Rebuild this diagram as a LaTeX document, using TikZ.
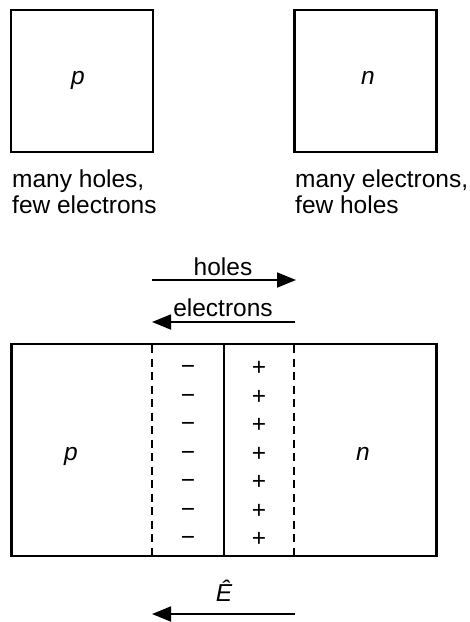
\documentclass[tikz,border=0pt]{standalone}
\usepackage{fontspec}
\setmainfont{Liberation Sans}
\usetikzlibrary{arrows.meta}
\begin{document}
\begin{tikzpicture}[x=1pt,y=-1pt,
  txt/.style={font=\fontsize{24.5}{26}\selectfont, inner sep=0pt},
  blk/.style={draw, line width=2.4pt, inner sep=0pt},
  arr/.style={line width=1.8pt, -{Triangle[length=19pt,width=15pt]}},
  dsh/.style={line width=2pt, dash pattern=on 8pt off 5.5pt},
  sgn/.style={font=\fontsize{24.5}{26}\selectfont, inner sep=0pt, anchor=base}]
\useasboundingbox (0,0) rectangle (470,622);
% top blocks
\node[blk, minimum width=142pt, minimum height=142pt] (pb) at (82,81) {};
\node[blk, minimum width=142pt, minimum height=142pt] (nb) at (365.5,81) {};
\node[txt, anchor=base] (pl) at (78,84) {\itshape p};
\node[txt, anchor=base] (nl) at (368,84) {\itshape n};
\node[txt, anchor=north west, align=left] (pt) at (12,169.5) {many holes,\\few electrons};
\node[txt, anchor=north west, align=left] (nt) at (295,169.5) {many electrons,\\few holes};
% diffusion arrows
\coordinate (h1) at (152,280);
\coordinate (h2) at (296,280);
\coordinate (e1) at (295,322);
\coordinate (e2) at (152,322);
\draw[arr] (h1) -- (h2);
\draw[arr] (e1) -- (e2);
\node[txt, anchor=base] (hl) at (223,275) {holes};
\node[txt, anchor=base] (el) at (223,316.5) {electrons};
% junction
\node[blk, minimum width=425pt, minimum height=212pt] (jb) at (224,450) {};
\coordinate (dl1) at (152,345);
\coordinate (dl2) at (152,555);
\coordinate (dr1) at (294,345);
\coordinate (dr2) at (294,555);
\draw[dsh] (dl1) -- (dl2);
\draw[dsh] (dr1) -- (dr2);
\draw[line width=2.4pt] (jb.north) -- (jb.south);
\foreach \yy [count=\i] in {367,395.5,424,452.5,481,509.5,538}{
  \node[sgn] (m\i) at (188,\yy+7.5) {−};
  \node[sgn] (q\i) at (259,\yy+8.5) {+};
}
\node[txt, anchor=base] (jp) at (71,460) {\itshape p};
\node[txt, anchor=base] (jn) at (363,460) {\itshape n};
% field
\coordinate (f1) at (295,614);
\coordinate (f2) at (152,614);
\draw[arr] (f1) -- (f2);
\node[txt, anchor=base] (fl) at (224,601) {\itshape Ê};
\end{tikzpicture}
\end{document}
